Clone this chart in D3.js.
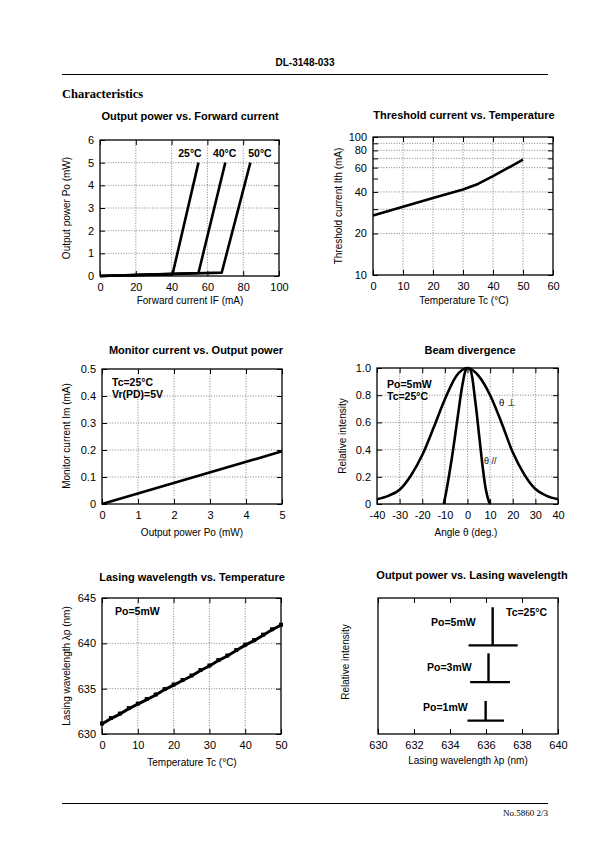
<!DOCTYPE html>
<html><head><meta charset="utf-8">
<script src="https://cdn.jsdelivr.net/npm/d3@7/dist/d3.min.js"></script>
<style>body{margin:0;background:#fff}</style>
</head><body>
<svg id="page" width="595" height="842"></svg>
<script>
// ---------- DATA ----------
// Output power vs forward current
const ifCurrent25 = [0, 40.5, 55];
const poPower25   = [0, 0.07, 5];
const ifCurrent40 = [0, 55, 70];
const poPower40   = [0, 0.13, 5];
const ifCurrent50 = [0, 68, 84];
const poPower50   = [0, 0.15, 5];
const opfTempLabels = ["25°C", "40°C", "50°C"];
const opfLabelX = [43.7, 63.1, 82.8];
const opfXTicks = [0, 20, 40, 60, 80, 100];
const opfYTicks = [0, 1, 2, 3, 4, 5, 6];

// Threshold current vs temperature
const thTemp = [0, 10, 20, 30, 35, 40, 50];
const thCurrent = [27, 31.2, 36.2, 41.6, 45.7, 52, 68.6];
const thXTicks = [0, 10, 20, 30, 40, 50, 60];
const thYTicks = [10, 20, 30, 40, 50, 60, 70, 80, 90, 100];
const thYLabels = [10, 20, 40, 60, 80, 100];
const thYGrid = [20, 30, 40, 60, 70, 80, 90];

// Monitor current vs output power
const monPower = [0, 5];
const monCurrent = [0, 0.195];
const monXTicks = [0, 1, 2, 3, 4, 5];
const monYTicks = [0, 0.1, 0.2, 0.3, 0.4, 0.5];

// Beam divergence
const bdAnglePerp = [-40, -35, -30, -25, -20, -15, -10, -5, 0, 5, 10, 15, 20, 25, 30, 35, 40];
const bdIntPerp   = [0.035, 0.06, 0.105, 0.21, 0.36, 0.56, 0.77, 0.94, 1.0, 0.94, 0.80, 0.60, 0.38, 0.22, 0.11, 0.06, 0.035];
const bdAnglePar  = [-10.5, -9.4, -6.9, -4.4, -2.2, -0.6, 0.3, 1.2, 3.4, 5.3, 6.8, 8.2, 9.7, 10.3];
const bdIntPar    = [0, 0.09, 0.34, 0.63, 0.88, 0.99, 1.0, 0.99, 0.76, 0.48, 0.26, 0.10, 0.01, 0];
const bdXTicks = [-40, -30, -20, -10, 0, 10, 20, 30, 40];
const bdYTicks = [0, 0.2, 0.4, 0.6, 0.8, 1.0];

// Lasing wavelength vs temperature
const lwTemp = [0, 2.5, 5, 7.5, 10, 12.5, 15, 17.5, 20, 22.5, 25, 27.5, 30, 32.5, 35, 37.5, 40, 42.5, 45, 47.5, 50];
const lwWave = [631.1, 631.7, 632.2, 632.8, 633.3, 633.8, 634.3, 634.9, 635.4, 635.9, 636.4, 637.0, 637.5, 638.1, 638.6, 639.2, 639.8, 640.3, 640.9, 641.5, 642.0];
const lwXTicks = [0, 10, 20, 30, 40, 50];
const lwYTicks = [630, 635, 640, 645];

// Output power vs lasing wavelength (spectra)
const spLabels = ["Po=5mW", "Po=3mW", "Po=1mW"];
const spPeak = [636.37, 636.14, 635.98];
const spTop = [0.932, 0.593, 0.243];
const spBase = [0.652, 0.381, 0.098];
const spBaseFrom = [635.03, 635.12, 634.97];
const spBaseTo = [637.76, 637.33, 637.0];
const spXTicks = [630, 632, 634, 636, 638, 640];

// ---------- DRAWING ----------
const SANS = '"Liberation Sans", Arial, Helvetica, sans-serif';
const SERIF = '"Liberation Serif", "Times New Roman", serif';
const svg = d3.select('#page');

// header / footer
svg.append('text').attr('x', 305).attr('y', 66).attr('text-anchor', 'middle')
  .attr('font-family', SANS).attr('font-weight', 'bold').attr('font-size', 10).text('DL-3148-033');
svg.append('line').attr('x1', 62).attr('x2', 548).attr('y1', 74.5).attr('y2', 74.5).attr('stroke', '#000').attr('stroke-width', 1);
svg.append('text').attr('x', 62).attr('y', 98).attr('font-family', SERIF).attr('font-weight', 'bold')
  .attr('font-size', 12.5).text('Characteristics');
svg.append('line').attr('x1', 62).attr('x2', 548).attr('y1', 803.5).attr('y2', 803.5).attr('stroke', '#000').attr('stroke-width', 1);
svg.append('text').attr('x', 548).attr('y', 816).attr('text-anchor', 'end').attr('font-family', SERIF)
  .attr('font-size', 9).text('No.5860 2/3');

function panel(o) {
  const g = svg.append('g');
  const x = o.x, y = o.y;
  const [xa, xb] = x.range();
  const [ya, yb] = y.range(); // ya bottom, yb top
  const gridStyle = s => s.attr('stroke', '#666').attr('stroke-width', 0.8).attr('stroke-dasharray', '1,1.6');
  g.selectAll(null).data(o.xGrid || []).join('line')
    .attr('x1', d => x(d)).attr('x2', d => x(d)).attr('y1', ya).attr('y2', yb).call(gridStyle);
  g.selectAll(null).data(o.yGrid || []).join('line')
    .attr('y1', d => y(d)).attr('y2', d => y(d)).attr('x1', xa).attr('x2', xb).call(gridStyle);

  const T = o.tick || 5;
  const styleAxis = a => {
    a.select('.domain').remove();
    a.selectAll('text').attr('font-family', SANS).attr('font-size', 11).attr('fill', '#000');
    a.selectAll('line').attr('stroke', '#000').attr('stroke-width', 1);
  };
  g.append('g').attr('transform', `translate(0,${ya})`)
    .call(d3.axisBottom(x).tickValues(o.xTicks).tickSizeInner(-T).tickSizeOuter(0).tickPadding(7)
      .tickFormat(o.xFmt || (d => d))).call(styleAxis);
  g.append('g').attr('transform', `translate(0,${yb})`)
    .call(d3.axisTop(x).tickValues(o.xTicks).tickSizeInner(-T).tickSizeOuter(0).tickFormat('')).call(styleAxis);
  if (o.yTicks) {
    g.append('g').attr('transform', `translate(${xa},0)`)
      .call(d3.axisLeft(y).tickValues(o.yTicks).tickSizeInner(-T).tickSizeOuter(0).tickPadding(6)
        .tickFormat(o.yFmt || (d => d))).call(styleAxis);
    g.append('g').attr('transform', `translate(${xb},0)`)
      .call(d3.axisRight(y).tickValues(o.yTicks).tickSizeInner(-T).tickSizeOuter(0).tickFormat('')).call(styleAxis);
  }
  g.append('rect').attr('x', xa).attr('y', yb).attr('width', xb - xa).attr('height', ya - yb)
    .attr('fill', 'none').attr('stroke', '#000').attr('stroke-width', 1.3);

  g.append('text').attr('x', o.titleX).attr('y', o.titleY).attr('text-anchor', 'middle')
    .attr('font-family', SANS).attr('font-weight', 'bold').attr('font-size', 11).text(o.title);
  g.append('text').attr('x', o.xTitleX).attr('y', o.xTitleY).attr('text-anchor', 'middle')
    .attr('font-family', SANS).attr('font-size', 10).text(o.xTitle);
  g.append('text').attr('transform', `translate(${o.yTitleX},${o.yTitleY}) rotate(-90)`).attr('text-anchor', 'middle')
    .attr('font-family', SANS).attr('font-size', 10).text(o.yTitle);
  return g;
}

function curve(g, x, y, xs, ys, w, c) {
  const pts = xs.map((d, i) => [d, ys[i]]);
  g.append('path').datum(pts).attr('fill', 'none').attr('stroke', '#000').attr('stroke-width', w || 2.6)
    .attr('stroke-linejoin', 'round')
    .attr('d', d3.line().x(d => x(d[0])).y(d => y(d[1])).curve(c || d3.curveLinear));
}
function label(g, xx, yy, t, bold, size, anchor) {
  g.append('text').attr('x', xx).attr('y', yy).attr('font-family', SANS)
    .attr('font-weight', bold ? 'bold' : 'normal').attr('font-size', size || 10.5)
    .attr('text-anchor', anchor || 'start').text(t);
}

// 1. Output power vs forward current
{
  const x = d3.scaleLinear().domain([0, 100]).range([100, 279]);
  const y = d3.scaleLinear().domain([0, 6]).range([276, 140]);
  const g = panel({x, y, xTicks: opfXTicks, yTicks: opfYTicks, xGrid: [20, 40, 60, 80], yGrid: [1, 2, 3, 4, 5],
    title: 'Output power vs. Forward current', titleX: 190, titleY: 120,
    xTitle: 'Forward current IF (mA)', xTitleX: 190, xTitleY: 304,
    yTitle: 'Output power  Po (mW)', yTitleX: 70, yTitleY: 208});
  curve(g, x, y, ifCurrent50, poPower50);
  curve(g, x, y, ifCurrent40, poPower40);
  curve(g, x, y, ifCurrent25, poPower25);
  opfTempLabels.forEach((t, i) => label(g, x(opfLabelX[i]), y(5.25), t, true, 10.5));
}

// 2. Threshold current vs temperature
{
  const x = d3.scaleLinear().domain([0, 60]).range([373, 553]);
  const y = d3.scaleLog().domain([10, 100]).range([275, 137]);
  const g = panel({x, y, xTicks: thXTicks, yTicks: thYTicks, xGrid: [10, 20, 30, 40, 50], yGrid: thYGrid,
    yFmt: d => thYLabels.includes(d) ? d : '',
    title: 'Threshold current vs. Temperature', titleX: 464, titleY: 119,
    xTitle: 'Temperature Tc (°C)', xTitleX: 464, xTitleY: 304,
    yTitle: 'Threshold current  Ith (mA)', yTitleX: 342, yTitleY: 206});
  curve(g, x, y, thTemp, thCurrent);
}

// 3. Monitor current vs output power
{
  const x = d3.scaleLinear().domain([0, 5]).range([102, 282]);
  const y = d3.scaleLinear().domain([0, 0.5]).range([504, 369]);
  const g = panel({x, y, xTicks: monXTicks, yTicks: monYTicks, xGrid: [1, 2, 3, 4], yGrid: [0.1, 0.2, 0.3, 0.4],
    yFmt: d => d === 0 ? '0' : d.toFixed(1),
    title: 'Monitor current vs. Output power', titleX: 196, titleY: 354,
    xTitle: 'Output power  Po (mW)', xTitleX: 192, xTitleY: 536,
    yTitle: 'Monitor current Im (mA)', yTitleX: 70, yTitleY: 436});
  curve(g, x, y, monPower, monCurrent);
  label(g, 112, 386, 'Tc=25°C', true, 10.5);
  label(g, 112, 398, 'Vr(PD)=5V', true, 10.5);
}

// 4. Beam divergence
{
  const x = d3.scaleLinear().domain([-40, 40]).range([377, 558]);
  const y = d3.scaleLinear().domain([0, 1]).range([504, 368]);
  const g = panel({x, y, xTicks: bdXTicks, yTicks: bdYTicks, xGrid: [-30, -20, -10, 0, 10, 20, 30], yGrid: [0.2, 0.4, 0.6, 0.8],
    yFmt: d => d === 0 ? '0' : d.toFixed(1),
    title: 'Beam divergence', titleX: 470, titleY: 354,
    xTitle: 'Angle θ (deg.)', xTitleX: 466, xTitleY: 536,
    yTitle: 'Relative  intensity', yTitleX: 346, yTitleY: 436});
  curve(g, x, y, bdAnglePerp, bdIntPerp, 2.6, d3.curveMonotoneX);
  curve(g, x, y, bdAnglePar, bdIntPar, 2.6, d3.curveCatmullRom);
  label(g, 387, 388, 'Po=5mW', true, 10.5);
  label(g, 387, 400, 'Tc=25°C', true, 10.5);
  label(g, 499, 406, 'θ ⊥', false, 9.5);
  label(g, 484, 464, 'θ //', false, 9);
}

// 5. Lasing wavelength vs temperature
{
  const x = d3.scaleLinear().domain([0, 50]).range([102, 281]);
  const y = d3.scaleLinear().domain([630, 645]).range([734, 598]);
  const g = panel({x, y, xTicks: lwXTicks, yTicks: lwYTicks, xGrid: [10, 20, 30, 40], yGrid: [635, 640],
    title: 'Lasing wavelength vs. Temperature', titleX: 192, titleY: 581,
    xTitle: 'Temperature Tc (°C)', xTitleX: 192, xTitleY: 766,
    yTitle: 'Lasing wavelength λp (nm)', yTitleX: 70, yTitleY: 666});
  curve(g, x, y, lwTemp, lwWave, 3);
  g.selectAll(null).data(lwTemp).join('rect')
    .attr('x', (d) => x(d) - 2).attr('y', (d, i) => y(lwWave[i]) - 2.5).attr('width', 4).attr('height', 4).attr('fill', '#000');
  label(g, 115, 615, 'Po=5mW', true, 10.5);
}

// 6. Output power vs lasing wavelength
{
  const x = d3.scaleLinear().domain([630, 640]).range([378, 558]);
  const y = d3.scaleLinear().domain([0, 1]).range([734, 598]);
  const g = panel({x, y, xTicks: spXTicks,
    title: 'Output power vs. Lasing wavelength', titleX: 472, titleY: 579,
    xTitle: 'Lasing wavelength λp (nm)', xTitleX: 468, xTitleY: 764,
    yTitle: 'Relative  intensity', yTitleX: 349, yTitleY: 662});
  spPeak.forEach((p, i) => {
    curve(g, x, y, [p, p], [spBase[i], spTop[i]], 2.4);
    curve(g, x, y, [spBaseFrom[i], spBaseTo[i]], [spBase[i], spBase[i]], 2.2);
  });
  const lblY = [626, 671, 711];
  const lblX = [431, 427, 423];
  spLabels.forEach((t, i) => label(g, lblX[i], lblY[i], t, true, 10.5));
  label(g, 506, 616, 'Tc=25°C', true, 10.5);
}
</script>
</body></html>
